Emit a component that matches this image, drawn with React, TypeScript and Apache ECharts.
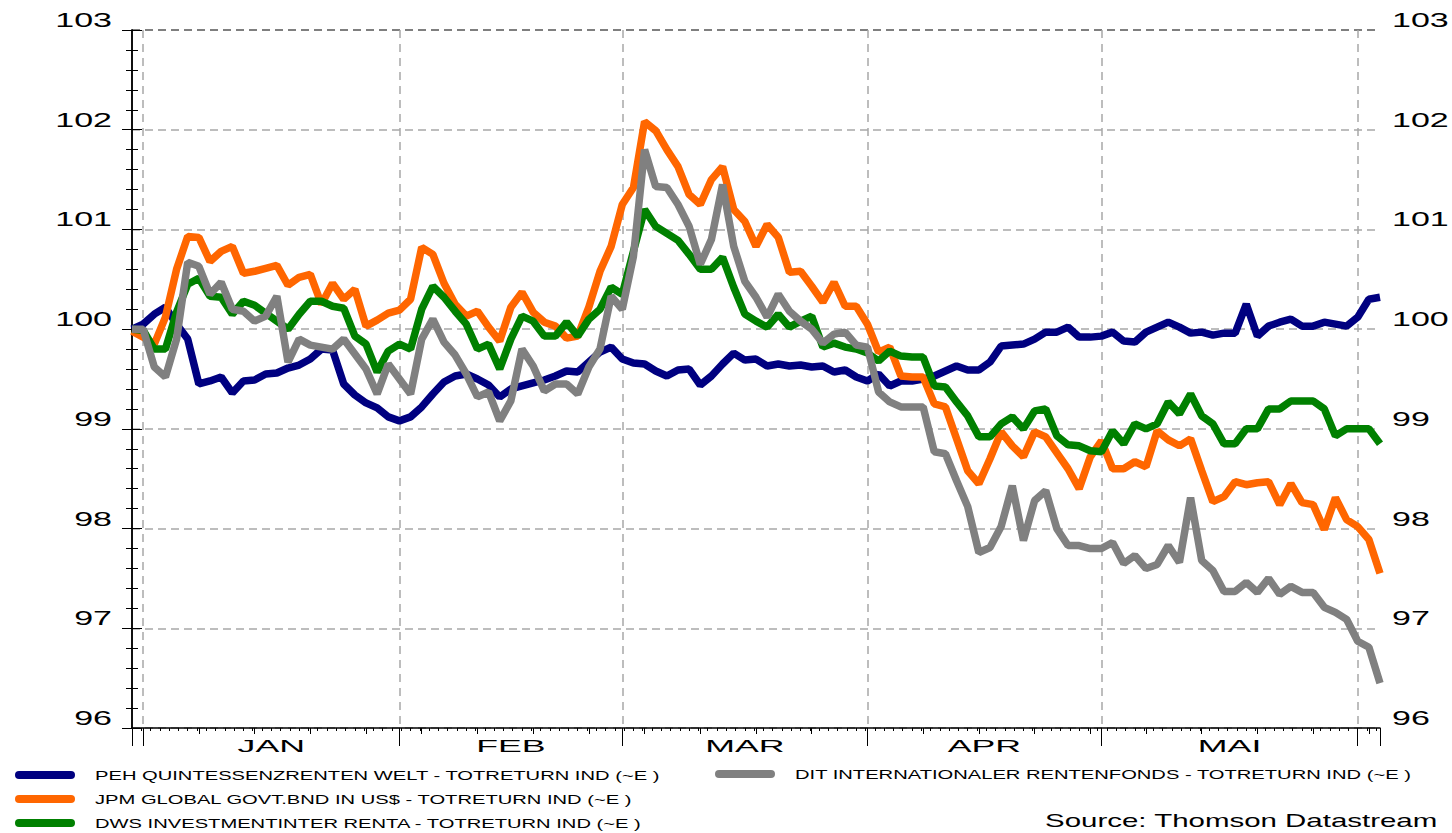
import React, { useEffect, useRef } from "react";
import * as echarts from "echarts";

// ---- categories: business days (Datastream plots every weekday) ----
const FIRST_DAY = [2006, 11, 29];
const LAST_DAY = [2007, 5, 5];
const monthLabels = ["JAN", "FEB", "MAR", "APR", "MAI"];
const yMin = 96;
const yMax = 103;
const yStep = 1;

const seriesNames = [
  "PEH QUINTESSENZRENTEN WELT - TOTRETURN IND (~E )",
  "JPM GLOBAL GOVT.BND IN US$ - TOTRETURN IND (~E )",
  "DWS INVESTMENTINTER RENTA - TOTRETURN IND (~E )",
  "DIT INTERNATIONALER RENTENFONDS - TOTRETURN IND (~E )",
];
const seriesColors = ["#000080", "#ff6600", "#008000", "#808080"];
const sourceText = "Source: Thomson Datastream";

// ---- values ----
const peh = [
  100.0, 100.05, 100.15, 100.22, 100.05, 99.9, 99.45, 99.48, 99.52, 99.36,
  99.48, 99.49, 99.55, 99.56, 99.61, 99.64, 99.7, 99.8, 99.79, 99.45,
  99.34, 99.26, 99.21, 99.12, 99.08, 99.12, 99.22, 99.35, 99.47, 99.53,
  99.55, 99.5, 99.44, 99.32, 99.4, 99.43, 99.46, 99.49, 99.53, 99.58,
  99.57, 99.67, 99.77, 99.82, 99.7, 99.66, 99.65, 99.58, 99.53, 99.59,
  99.6, 99.44, 99.53, 99.65, 99.76, 99.69, 99.7, 99.63, 99.65, 99.63,
  99.64, 99.62, 99.63, 99.57, 99.59, 99.52, 99.48, 99.55, 99.43, 99.48,
  99.48, 99.5, 99.53, 99.58, 99.63, 99.59, 99.59, 99.67, 99.83, 99.84,
  99.85, 99.9, 99.97, 99.97, 100.02, 99.92, 99.92, 99.93, 99.97, 99.88,
  99.87, 99.97, 100.02, 100.07, 100.02, 99.96, 99.97, 99.94, 99.96, 99.96,
  100.25, 99.93, 100.03, 100.07, 100.1, 100.03, 100.03, 100.07, 100.05, 100.03,
  100.12, 100.3, 100.32,
];
const jpm = [
  99.98, 99.92, 99.85, 100.12, 100.6, 100.93, 100.92, 100.68, 100.78, 100.83,
  100.56, 100.58, 100.61, 100.64, 100.44, 100.52, 100.55, 100.25, 100.46, 100.3,
  100.4, 100.03, 100.09, 100.16, 100.19, 100.3, 100.82, 100.75, 100.46, 100.25,
  100.13, 100.18, 100.02, 99.88, 100.22, 100.37, 100.17, 100.07, 100.03, 99.91,
  99.93, 100.22, 100.58, 100.83, 101.25, 101.42, 102.08, 101.99, 101.8, 101.63,
  101.35, 101.25, 101.5, 101.63, 101.2, 101.08, 100.83, 101.05, 100.92, 100.57,
  100.58, 100.43, 100.27, 100.47, 100.23, 100.23, 100.05, 99.77, 99.82, 99.53,
  99.52, 99.52, 99.25, 99.22, 98.9, 98.58, 98.45, 98.7, 98.97, 98.83,
  98.72, 98.97, 98.92, 98.76, 98.6, 98.4, 98.72, 98.88, 98.6, 98.6,
  98.67, 98.62, 98.98, 98.89, 98.83, 98.9, 98.58, 98.27, 98.32, 98.47,
  98.44, 98.46, 98.47, 98.24, 98.45, 98.26, 98.24, 97.99, 98.31, 98.09,
  98.02, 97.89, 97.55,
];
const dws = [
  100.0, 99.99, 99.8, 99.8, 100.17, 100.45, 100.51, 100.33, 100.32, 100.15,
  100.28, 100.24, 100.16, 100.08, 100.0, 100.15, 100.28, 100.28, 100.23, 100.21,
  99.93, 99.85, 99.57, 99.78, 99.85, 99.8, 100.2, 100.43, 100.32, 100.18,
  100.05, 99.8, 99.85, 99.6, 99.9, 100.13, 100.08, 99.93, 99.93, 100.07,
  99.93, 100.1, 100.2, 100.42, 100.35, 100.78, 101.2, 101.03, 100.96, 100.89,
  100.75, 100.6, 100.6, 100.72, 100.42, 100.15, 100.08, 100.02, 100.15, 100.02,
  100.08, 100.13, 99.82, 99.86, 99.82, 99.8, 99.76, 99.68, 99.78, 99.73,
  99.72, 99.72, 99.43, 99.42, 99.27, 99.13, 98.92, 98.92, 99.05, 99.12,
  99.0, 99.18, 99.2, 98.93, 98.84, 98.83, 98.78, 98.77, 98.98, 98.85,
  99.05, 99.0, 99.05, 99.27, 99.15, 99.35, 99.13, 99.05, 98.85, 98.85,
  99.0, 99.0, 99.2, 99.2, 99.28, 99.28, 99.28, 99.2, 98.93, 99.0,
  99.0, 99.0, 98.85,
];
const dit = [
  100.0, 100.0, 99.62, 99.52, 99.9, 100.67, 100.63, 100.35, 100.47, 100.2,
  100.18, 100.08, 100.13, 100.33, 99.67, 99.9, 99.84, 99.82, 99.8, 99.9,
  99.75, 99.6, 99.35, 99.65, 99.5, 99.35, 99.9, 100.1, 99.87, 99.74,
  99.55, 99.32, 99.37, 99.08, 99.28, 99.8, 99.63, 99.38, 99.45, 99.45,
  99.35, 99.62, 99.8, 100.33, 100.2, 100.73, 101.8, 101.43, 101.42, 101.25,
  101.03, 100.65, 100.9, 101.45, 100.83, 100.48, 100.32, 100.12, 100.35, 100.18,
  100.08, 100.0, 99.86, 99.95, 99.97, 99.84, 99.82, 99.37, 99.27, 99.22,
  99.22, 99.22, 98.77, 98.75, 98.48, 98.22, 97.76, 97.81, 98.02, 98.43,
  97.88, 98.28, 98.38, 98.0, 97.83, 97.83, 97.8, 97.8, 97.86, 97.65,
  97.73, 97.6, 97.64, 97.83, 97.66, 98.31, 97.68, 97.58, 97.37, 97.37,
  97.46, 97.36, 97.5, 97.34, 97.42, 97.36, 97.36, 97.21, 97.16, 97.09,
  96.87, 96.81, 96.45,
];

function buildDays(): string[] {
  const out: string[] = [];
  const start = Date.UTC(FIRST_DAY[0], FIRST_DAY[1], FIRST_DAY[2]);
  const end = Date.UTC(LAST_DAY[0], LAST_DAY[1], LAST_DAY[2]);
  for (let t = start; t <= end; t += 86400000) {
    const d = new Date(t);
    const wd = d.getUTCDay();
    if (wd !== 0 && wd !== 6) out.push(d.toISOString().slice(0, 10));
  }
  return out;
}

const FONT = "'Liberation Sans', Arial, Helvetica, sans-serif";

function stretchTexts(root: HTMLElement) {
  const nodes = root.querySelectorAll("text");
  nodes.forEach((node) => {
    const t = node as SVGTextElement;
    if (t.getAttribute("data-st")) return;
    const s = (t.textContent || "").trim();
    if (!s) return;
    let f = 1.55;
    if (/^\d+$/.test(s)) f = 1.7;
    else if (monthLabels.indexOf(s) >= 0) f = 2.1;
    else if (s.indexOf("Source") === 0) f = 1.55;
    let w = 0;
    try {
      w = t.getComputedTextLength();
    } catch (e) {
      w = 0;
    }
    if (w > 0) {
      t.setAttribute("textLength", (w * f).toFixed(1));
      t.setAttribute("lengthAdjust", "spacingAndGlyphs");
      t.setAttribute("data-st", "1");
    }
  });
}

export default function App() {
  const ref = useRef<HTMLDivElement>(null);

  useEffect(() => {
    if (!ref.current) return;
    const chart = echarts.init(ref.current, undefined, { renderer: "svg" });
    const days = buildDays();
    const n = days.length;
    const month = (i: number) => days[i].slice(0, 7);
    const monthStarts: number[] = [];
    for (let i = 1; i < n; i++) if (month(i) !== month(i - 1)) monthStarts.push(i);
    const isMonthStart = (i: number) => monthStarts.indexOf(i) >= 0;
    const isMonday = (i: number) => new Date(days[i] + "T00:00:00Z").getUTCDay() === 1;

    const labelAt: Record<string, string> = {};
    monthLabels.forEach((m, k) => {
      if (k + 1 < monthStarts.length) {
        const mid = (monthStarts[k] + monthStarts[k + 1]) / 2;
        labelAt[mid.toFixed(1)] = m;
      }
    });

    const values = [peh, jpm, dws, dit];
    const gridGray = "#a8a8a8";
    const splitColors: string[] = [];
    for (let v = yMin; v <= yMax; v += yStep) splitColors.push(v === yMax ? "#555555" : gridGray);

    const yAxisBase = (pos: "left" | "right", margin: number, split: boolean) => ({
      type: "value",
      position: pos,
      min: yMin,
      max: yMax,
      interval: yStep,
      axisLine: { show: true, lineStyle: { color: "#000", width: 1.5 } },
      axisTick: { show: true, inside: false, length: 10, lineStyle: { color: "#000", width: 1 } },
      minorTick: { show: true, splitNumber: 5, length: 6, lineStyle: { color: "#000", width: 1 } },
      axisLabel: {
        color: "#000",
        fontSize: 20,
        fontFamily: FONT,
        margin,
        verticalAlign: "bottom",
        lineHeight: 20,
      },
      splitLine: {
        show: split,
        lineStyle: { color: splitColors, type: [8, 5], width: 1.5 },
      },
    });

    const option: any = {
      animation: false,
      backgroundColor: "#ffffff",
      textStyle: { fontFamily: FONT },
      title: {
        text: sourceText,
        left: 1045,
        top: 811,
        padding: 0,
        textStyle: { fontSize: 19, fontWeight: "normal", color: "#000", fontFamily: FONT },
      },
      grid: { left: 132, right: 72, top: 30, bottom: 105, containLabel: false },
      legend: [
        {
          data: seriesNames.slice(0, 3),
          orient: "vertical",
          left: 15,
          top: 767,
          itemWidth: 60,
          itemHeight: 8,
          itemGap: 8,
          selectedMode: false,
          padding: 0,
          icon: "path://M4,0L56,0A4,4,0,0,1,56,8L4,8A4,4,0,0,1,4,0Z",
          textStyle: { fontSize: 13, color: "#000", fontFamily: FONT, lineHeight: 16, padding: [0, 0, 0, 15] },
        },
        {
          data: seriesNames.slice(3),
          orient: "vertical",
          left: 715,
          top: 766,
          itemWidth: 60,
          itemHeight: 8,
          itemGap: 8,
          selectedMode: false,
          padding: 0,
          icon: "path://M4,0L56,0A4,4,0,0,1,56,8L4,8A4,4,0,0,1,4,0Z",
          textStyle: { fontSize: 13, color: "#000", fontFamily: FONT, lineHeight: 16, padding: [0, 0, 0, 15] },
        },
      ],
      xAxis: [
        {
          type: "category",
          data: days,
          boundaryGap: false,
          position: "bottom",
          axisLine: { show: true, onZero: false, lineStyle: { color: "#000", width: 1.5 } },
          axisTick: {
            show: true,
            length: 18,
            interval: (i: number) => i === 0 || i === n - 1 || isMonthStart(i),
            lineStyle: { color: "#000", width: 1 },
          },
          axisLabel: { show: false },
          splitLine: {
            show: true,
            interval: (i: number) => isMonthStart(i) && i !== n - 1,
            lineStyle: { color: gridGray, type: [8, 6], width: 1.5 },
          },
        },
        {
          type: "category",
          data: days,
          boundaryGap: false,
          position: "bottom",
          axisLine: { show: false, onZero: false },
          axisTick: {
            show: true,
            length: 6,
            interval: (i: number) => isMonday(i),
            lineStyle: { color: "#000", width: 1 },
          },
          axisLabel: { show: false },
          splitLine: { show: false },
        },
        {
          type: "value",
          min: 0,
          max: n - 1,
          interval: 5 / 6,
          position: "bottom",
          axisLine: { show: false, onZero: false },
          axisTick: { show: true, length: 3, lineStyle: { color: "#000", width: 1 } },
          axisLabel: { show: false },
          splitLine: { show: false },
        },
        {
          type: "value",
          min: 0,
          max: n - 1,
          interval: 0.5,
          position: "bottom",
          axisLine: { show: false, onZero: false },
          axisTick: { show: false },
          axisLabel: {
            show: true,
            color: "#000",
            fontSize: 17,
            fontFamily: FONT,
            margin: 10,
            lineHeight: 17,
            formatter: (v: number) => labelAt[Number(v).toFixed(1)] || "",
          },
          splitLine: { show: false },
        },
      ],
      yAxis: [yAxisBase("left", 20, true), yAxisBase("right", 12, false)],
      series: values.map((arr, k) => ({
        name: seriesNames[k],
        type: "line",
        xAxisIndex: 0,
        yAxisIndex: 0,
        data: arr,
        showSymbol: false,
        symbol: "none",
        color: seriesColors[k],
        lineStyle: { color: seriesColors[k], width: 7.5, join: "bevel", cap: "butt" },
        emphasis: { disabled: true },
        z: 2 + k,
      })),
    };

    chart.setOption(option);
    const root = ref.current;
    stretchTexts(root);
    const onFinished = () => stretchTexts(root);
    chart.on("finished", onFinished);
    const timer = window.setTimeout(() => stretchTexts(root), 50);

    return () => {
      window.clearTimeout(timer);
      chart.off("finished", onFinished);
      chart.dispose();
    };
  }, []);

  return (
    <div
      ref={ref}
      style={{ position: "absolute", left: 0, top: 0, width: 1452, height: 833, background: "#fff" }}
    />
  );
}
